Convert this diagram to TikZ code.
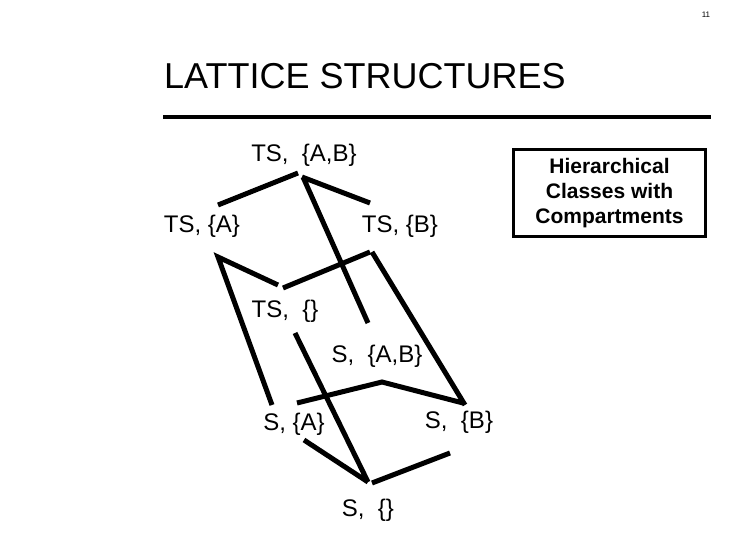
\documentclass[tikz,border=0pt]{standalone}
\usepackage{fontspec}
\setmainfont{Liberation Sans}
\begin{document}
\begin{tikzpicture}[x=1pt,y=-1pt,
  lbl/.style={font=\fontsize{24}{26}\selectfont,inner sep=0pt},
  edge/.style={line width=5pt}]
\useasboundingbox (0,0) rectangle (729,551);
\node[font=\fontsize{8}{9}\selectfont] (pg) at (706,15) {11};
\node[anchor=west,inner sep=0pt,font=\fontsize{36}{40}\selectfont] (title) at (164,76) {LATTICE STRUCTURES};
\coordinate (r1) at (163,117); \coordinate (r2) at (711,117);
\draw[line width=4pt] (r1) -- (r2);
\node[draw,line width=3pt,minimum width=192pt,minimum height=87pt,align=center,font=\bfseries\fontsize{21}{25}\selectfont] (box) at (609.5,193) {Hierarchical\\Classes with\\Compartments};
\node[lbl] (tsab) at (304,155) {TS,\ \ \{A,B\}};
\node[lbl] (tsa) at (202,226) {TS, \{A\}};
\node[lbl] (tsb) at (400,226) {TS, \{B\}};
\node[lbl] (ts0) at (285,311) {TS,\ \ \{\}};
\node[lbl] (sab) at (377,356) {S,\ \ \{A,B\}};
\node[lbl] (sa) at (294,424) {S,\ \{A\}};
\node[lbl] (sb) at (459,422) {S,\ \ \{B\}};
\node[lbl] (s0) at (368,510) {S,\ \ \{\}};
\foreach \n/\x/\y in {a1/218/205,a2/298/173,b1/302/177,b2/370/203,c1/303/177,c2/368/323,
 d1/218/257,d2/278/285,e2/272/405,f1/283/288,f2/370/252,g1/372/252,g2/465/405,
 h1/297/403,h2/382/382,i2/463/403,j1/295/333,j2/368/482,k1/304/440,m1/372/483,m2/450/453}
 \coordinate (\n) at (\x,\y);
\draw[edge] (a1)--(a2) (b1)--(b2) (c1)--(c2) (d2)--(d1)--(e2) (f1)--(f2) (g1)--(g2)
 (h1)--(h2)--(i2) (j1)--(j2) (k1)--(j2) (m1)--(m2);
\end{tikzpicture}
\end{document}
